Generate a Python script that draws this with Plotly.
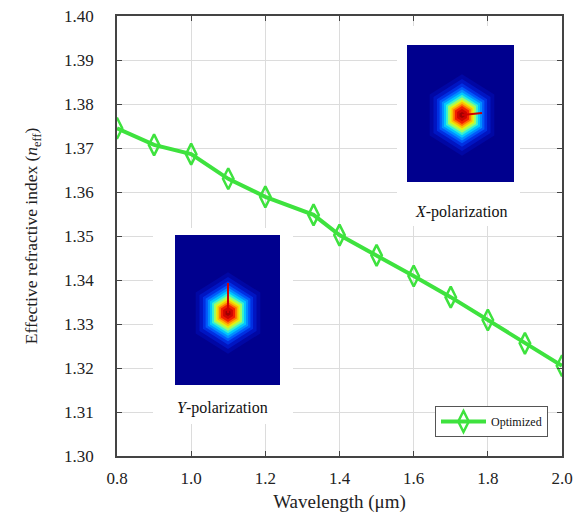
import plotly.graph_objects as go

wavelength = [0.8, 0.9, 1.0, 1.1, 1.2, 1.33, 1.4, 1.5, 1.6, 1.7, 1.8, 1.9, 2.0]
n_eff = [1.3745, 1.3707, 1.3686, 1.3630, 1.3589, 1.3548, 1.3502, 1.3456, 1.3409, 1.3361, 1.3309, 1.3256, 1.3205]
x_ticks = [0.8, 1.0, 1.2, 1.4, 1.6, 1.8, 2.0]
x_tick_labels = ["0.8", "1.0", "1.2", "1.4", "1.6", "1.8", "2.0"]
y_ticks = [1.30, 1.31, 1.32, 1.33, 1.34, 1.35, 1.36, 1.37, 1.38, 1.39, 1.40]
y_tick_labels = ["%.2f" % v for v in y_ticks]

W, H = 579, 513
L, R, T, B = 117, 562, 16, 456
X0, X1, Y0, Y1 = 0.8, 2.0, 1.30, 1.40


def px(p):
    return X0 + (p - L) / (R - L) * (X1 - X0)


def py(p):
    return Y1 - (p - T) / (B - T) * (Y1 - Y0)


FONT = "'Liberation Serif', 'Times New Roman', Times, 'DejaVu Serif', serif"

fig = go.Figure()
fig.add_trace(go.Scatter(
    x=wavelength, y=n_eff, mode="lines+markers", name="Optimized",
    line=dict(color="#3ee23e", width=4),
    marker=dict(symbol="diamond-tall-open", size=15, color="#3ee23e", line=dict(width=2.5, color="#3ee23e")),
))

shapes = []
jet = [
    (1.7, "#0008a8"), (1.5, "#0018c8"), (1.32, "#0034e8"), (1.18, "#0060ff"), (1.06, "#0098ff"),
    (0.95, "#00d0ff"), (0.84, "#40f8c8"), (0.74, "#a8ff58"), (0.64, "#f0f000"),
    (0.55, "#ffb000"), (0.46, "#ff6000"), (0.37, "#f01000"), (0.26, "#c80000"),
    (0.13, "#980000"),
]


def hexagon(cx, cy, rx, ry):
    pts = [(cx, cy - ry), (cx + rx, cy - ry * 0.5), (cx + rx, cy + ry * 0.5),
           (cx, cy + ry), (cx - rx, cy + ry * 0.5), (cx - rx, cy - ry * 0.5)]
    d = "M " + " L ".join("%f,%f" % (px(a), py(b)) for a, b in pts) + " Z"
    return d


def inset(bg, img, center, rad, spike):
    shapes.append(dict(type="rect", xref="x", yref="y", layer="above",
                       x0=px(bg[0]), x1=px(bg[2]), y0=py(bg[1]), y1=py(bg[3]),
                       fillcolor="white", line=dict(width=0)))
    shapes.append(dict(type="rect", xref="x", yref="y", layer="above",
                       x0=px(img[0]), x1=px(img[2]), y0=py(img[1]), y1=py(img[3]),
                       fillcolor="#00008e", line=dict(width=0)))
    cx, cy = center
    for f, c in jet:
        shapes.append(dict(type="path", xref="x", yref="y", layer="above",
                           path=hexagon(cx, cy, rad[0] * f, rad[1] * f),
                           fillcolor=c, line=dict(width=0), opacity=0.85))
    shapes.append(dict(type="line", xref="x", yref="y", layer="above",
                       x0=px(cx), y0=py(cy), x1=px(spike[0]), y1=py(spike[1]),
                       line=dict(color="#d00000", width=2)))


inset((397, 26, 520, 226), (407, 45, 514, 182), (462, 115), (19, 24), (482, 113))
inset((153, 228, 293, 424), (175, 235, 280, 385), (228, 313), (19, 24), (228, 283))

fig.update_layout(
    width=W, height=H,
    margin=dict(l=L, r=W - R, t=T, b=H - B, autoexpand=False),
    paper_bgcolor="white", plot_bgcolor="white",
    font=dict(family=FONT, color="#222222"),
    shapes=shapes,
    showlegend=True,
    legend=dict(x=(548 - L) / (R - L), y=(B - 437) / (B - T), xanchor="right", yanchor="bottom",
                bgcolor="white", bordercolor="#555555", borderwidth=1,
                font=dict(family=FONT, size=12, color="#111111"),
                itemwidth=45, tracegroupgap=0),
    annotations=[
        dict(x=px(461), y=py(212), xref="x", yref="y", text="<i>X</i>-polarization",
             showarrow=False, font=dict(family=FONT, size=16, color="#111111")),
        dict(x=px(222), y=py(408), xref="x", yref="y", text="<i>Y</i>-polarization",
             showarrow=False, font=dict(family=FONT, size=16, color="#111111")),
    ],
)
fig.update_xaxes(
    range=[X0, X1], tickvals=x_ticks, ticktext=x_tick_labels, automargin=False,
    showgrid=True, gridcolor="#dcdcdc", gridwidth=1,
    showline=True, linecolor="#444444", linewidth=1.5, mirror="ticks",
    ticks="inside", ticklen=5, tickcolor="#444444", ticklabelstandoff=6,
    tickfont=dict(family=FONT, size=17, color="#222222"),
    title=dict(text="Wavelength (μm)", font=dict(family=FONT, size=19, color="#222222"), standoff=8),
    zeroline=False,
)
fig.update_yaxes(
    range=[Y0, Y1], tickvals=y_ticks, ticktext=y_tick_labels, automargin=False,
    showgrid=True, gridcolor="#dcdcdc", gridwidth=1,
    showline=True, linecolor="#444444", linewidth=1.5, mirror="ticks",
    ticks="inside", ticklen=5, tickcolor="#444444", ticklabelstandoff=18,
    tickfont=dict(family=FONT, size=17, color="#222222"),
    title=dict(text="Effective refractive index (<i>n</i><sub>eff</sub>)",
               font=dict(family=FONT, size=17.5, color="#222222"), standoff=22),
    zeroline=False,
)

fig.write_html("out.html")
